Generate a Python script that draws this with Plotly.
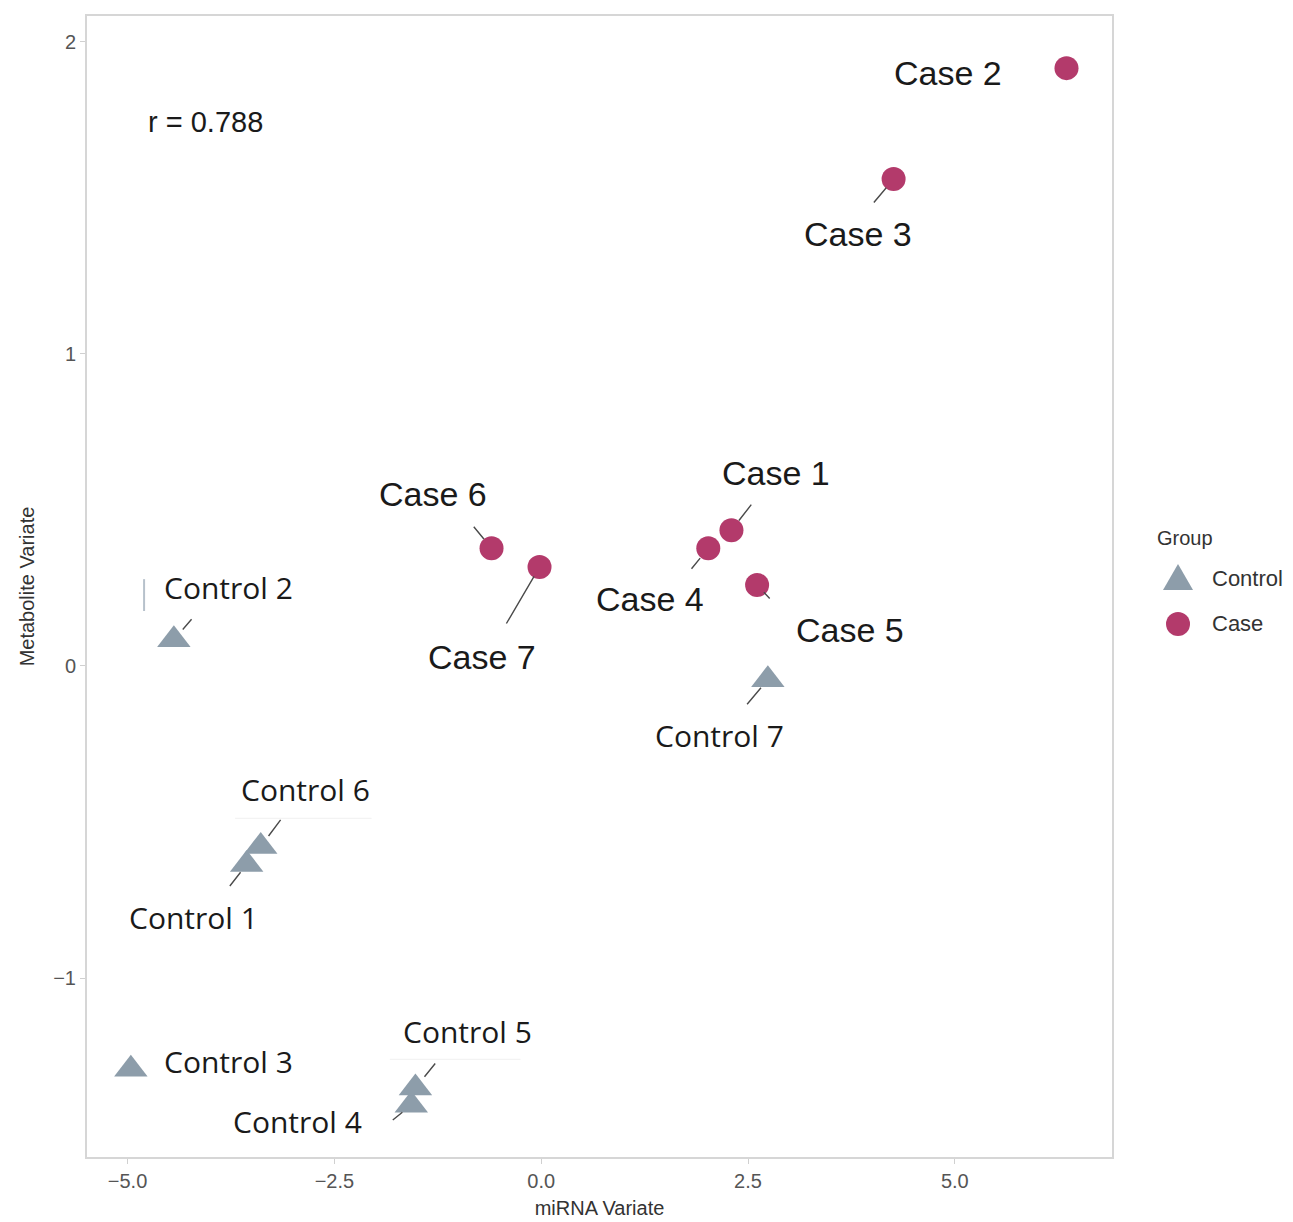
import plotly.graph_objects as go
import math

# ---------------- data ----------------
case_names = ["Case 1", "Case 2", "Case 3", "Case 4", "Case 5", "Case 6", "Case 7"]
case_x = [2.30, 6.35, 4.26, 2.02, 2.61, -0.60, -0.02]
case_y = [0.435, 1.915, 1.56, 0.377, 0.259, 0.377, 0.317]

control_names = ["Control 1", "Control 2", "Control 3", "Control 4", "Control 5", "Control 6", "Control 7"]
control_x = [-3.56, -4.44, -4.96, -1.57, -1.52, -3.39, 2.74]
control_y = [-0.636, 0.084, -1.292, -1.407, -1.352, -0.578, -0.044]

r_value = 0.788

x_ticks = [-5.0, -2.5, 0.0, 2.5, 5.0]
y_ticks = [-1, 0, 1, 2]

group_title = "Group"
group_labels = ["Control", "Case"]

# label layout (pixel offsets from the point: label centre, leader near end, leader far end)
label_layout = {
    "Case 1": ((45, -57), (7, -10), (21, -27)),
    "Case 2": ((-119, 5), None, None),
    "Case 3": ((-36, 55), (-7, 9), (-21, 25)),
    "Case 4": ((-58, 51), (-8, 10), (-18, 22)),
    "Case 5": ((93, 45), (7, 7), (14, 15)),
    "Case 6": ((-59, -54), (-8, -9), (-19, -23)),
    "Case 7": ((-58, 90), (-6, 9), (-34, 58)),
    "Control 1": ((-53, 53), (-7, 7), (-18, 23)),
    "Control 2": ((55, -52), (8, -11), (19, -22)),
    "Control 3": ((98, -8), None, None),
    "Control 4": ((-114, 16), (-9, 7), (-20, 16)),
    "Control 5": ((52, -57), (8, -12), (21, -26)),
    "Control 6": ((45, -57), (7, -11), (21, -28)),
    "Control 7": ((-48, 56), (-8, 7), (-22, 26)),
}

CASE_COLOR = "#B33A6B"
CONTROL_COLOR = "#8D9DAA"
SANS = "Liberation Sans, Arial, sans-serif"
CTRL_FONT = "Open Sans, sans-serif"

fig = go.Figure()
fig.add_trace(go.Scatter(
    x=control_x, y=control_y, mode="markers", name="Control",
    marker=dict(symbol="triangle-up", size=29, color=CONTROL_COLOR),
    text=control_names, hoverinfo="text", showlegend=False,
))
fig.add_trace(go.Scatter(
    x=case_x, y=case_y, mode="markers", name="Case",
    marker=dict(symbol="circle", size=24, color=CASE_COLOR),
    text=case_names, hoverinfo="text", showlegend=False,
))

annotations = []
points = list(zip(case_names, case_x, case_y)) + list(zip(control_names, control_x, control_y))
for name, px, py in points:
    (lx, ly), near, far = label_layout[name]
    is_case = name.startswith("Case")
    annotations.append(dict(
        x=px, y=py, xref="x", yref="y", text=name, showarrow=False,
        xshift=lx, yshift=-ly, xanchor="center", yanchor="middle",
        font=dict(family=SANS if is_case else CTRL_FONT,
                  size=34 if is_case else 30, color="#1a1a1a"),
    ))
    if near is not None:
        annotations.append(dict(
            x=px, y=py, xref="x", yref="y", text="", showarrow=True,
            ax=far[0], ay=far[1], arrowhead=0, arrowwidth=1.4,
            arrowcolor="#4a4a4a", standoff=math.hypot(*near),
        ))

annotations.append(dict(
    x=0.0, y=1.0, xref="paper", yref="paper", text=f"r = {r_value}",
    showarrow=False, xanchor="left", yanchor="top", xshift=59, yshift=-88,
    font=dict(family=SANS, size=29, color="#1a1a1a"),
))

# ---- manual legend (larger symbols than plotly's legend allows) ----
LEG_X_SYM = 1.0644
LEG_X_TXT = 1.0956
leg_y = [0.5066, 0.4672]
annotations.append(dict(
    x=1.042, y=0.5424, xref="paper", yref="paper", text=group_title,
    showarrow=False, xanchor="left", yanchor="middle",
    font=dict(family=SANS, size=20, color="#333"),
))
for lab, yy in zip(group_labels, leg_y):
    annotations.append(dict(
        x=LEG_X_TXT, y=yy, xref="paper", yref="paper", text=lab,
        showarrow=False, xanchor="left", yanchor="middle",
        font=dict(family=SANS, size=22, color="#333"),
    ))

shapes = [
    dict(type="path", xref="paper", yref="paper", xsizemode="pixel", ysizemode="pixel",
         xanchor=LEG_X_SYM, yanchor=leg_y[0], path="M-15,-11 L15,-11 L0,15 Z",
         fillcolor=CONTROL_COLOR, line=dict(width=0)),
    dict(type="circle", xref="paper", yref="paper", xsizemode="pixel", ysizemode="pixel",
         xanchor=LEG_X_SYM, yanchor=leg_y[1], x0=-12, x1=12, y0=-12, y1=12,
         fillcolor=CASE_COLOR, line=dict(width=0)),
    dict(type="line", xref="x", yref="y", x0=-4.80, x1=-4.80, y0=0.176, y1=0.278,
         line=dict(color="#b7c1cb", width=2)),
    dict(type="line", xref="x", yref="y", x0=-3.70, x1=-2.05, y0=-0.488, y1=-0.488,
         line=dict(color="#f0f0f0", width=1)),
    dict(type="line", xref="x", yref="y", x0=-1.83, x1=-0.25, y0=-1.26, y1=-1.26,
         line=dict(color="#f0f0f0", width=1)),
]

fig.update_layout(
    width=1285, height=1214,
    margin=dict(l=79, r=181, t=6, b=65),
    paper_bgcolor="white", plot_bgcolor="white",
    showlegend=False,
    annotations=annotations,
    shapes=shapes,
    xaxis=dict(
        range=[-5.49, 6.90], tickvals=x_ticks, tickformat=".1f",
        showgrid=False, zeroline=False,
        showline=True, mirror=True, linecolor="#d6d6d6", linewidth=2,
        ticks="outside", ticklen=5, tickcolor="#d0d0d0",
        tickfont=dict(family=SANS, size=20, color="#555"),
        title=dict(text="miRNA Variate", standoff=10,
                   font=dict(family=SANS, size=20, color="#333")),
    ),
    yaxis=dict(
        range=[-1.573, 2.082], tickvals=y_ticks, tickformat="d",
        showgrid=False, zeroline=False,
        showline=True, mirror=True, linecolor="#d6d6d6", linewidth=2,
        ticks="outside", ticklen=5, tickcolor="#d0d0d0",
        tickfont=dict(family=SANS, size=20, color="#555"),
        title=dict(text="Metabolite Variate", standoff=13,
                   font=dict(family=SANS, size=20, color="#333")),
    ),
)

fig.write_html("out.html")
